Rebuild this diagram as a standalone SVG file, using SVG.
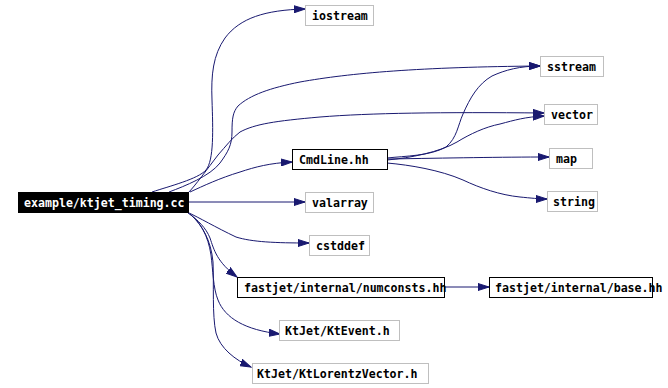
<svg xmlns="http://www.w3.org/2000/svg" width="668" height="388" viewBox="0 0 668 388">
<style>
.e{fill:none;stroke:#191970;stroke-width:1;marker-end:url(#arr)}
.n rect{fill:#fff;stroke:#bfbfbf;stroke-width:1}
.n.p rect{stroke:#000}
.n text{font-family:"DejaVu Sans Mono","Liberation Mono",monospace;font-weight:bold;font-size:11.6px;fill:#000}
#main rect{fill:#000;stroke:#000}
#main text{fill:#fff}
</style>
<defs>
<marker id="arr" viewBox="0 -4 12 8" refX="11" refY="0" markerWidth="12" markerHeight="8" markerUnits="userSpaceOnUse" orient="auto">
<path d="M0,-3.5L11,0L0,3.5z" fill="#191970" stroke="#191970" stroke-width="1"/>
</marker>
</defs>
<rect width="668" height="388" fill="#fff"/>
<g id="edges">
<path class="e" d="M152,192 C170,186 198,179 206,170 C214,160 213,130 212,100 C211,75 213,55 225,38 C240,18 265,10 305,9"/>
<path class="e" d="M169,192 C185,186 210,176 220,163 C228,152 232,145 232,132 C232,118 233,112 238,106 C250,95 270,88 300,82 C350,73 420,67 540,66"/>
<path class="e" d="M188,193 C195,186 208,168 218,155 C226,146 232,138 240,132 C255,124 275,121 320,117 C370,113 440,112 544,113"/>
<path class="e" d="M190,192 C203,186 220,178 240,172 C255,167 270,163 292,162"/>
<path class="e" d="M188,202 L305,202"/>
<path class="e" d="M187,212 C200,218 215,227 236,237 C252,242 275,243 309,243"/>
<path class="e" d="M188,213 C198,220 206,228 210,238 C214,250 217,262 237,277"/>
<path class="e" d="M190,214 C200,222 208,235 211,255 C213,270 213,288 218,300 C225,318 245,330 280,334"/>
<path class="e" d="M191,215 C202,225 211,240 213,262 C214,285 212,315 216,333 C220,348 235,360 251,367"/>
<path class="e" d="M387,158 C405,156 430,156 446,147 C457,138 458,125 463,114 C470,98 478,84 492,76 C505,70 520,66 540,66"/>
<path class="e" d="M387,160 C410,158 440,152 457,142 C470,134 485,127 500,124 C515,120 525,117 544,116"/>
<path class="e" d="M387,159 C450,158 500,157 549,157"/>
<path class="e" d="M387,163 C410,165 440,170 463,180 C480,188 500,195 520,197 C530,198 540,199 547,199"/>
<path class="e" d="M444,287 L489,287"/>
</g>
<g id="main" class="n"><rect x="18.5" y="192.5" width="170" height="20"/><text x="24" y="207">example/ktjet_timing.cc</text></g>
<g id="iostream" class="n"><rect x="305.5" y="5.5" width="68" height="20"/><text x="312" y="20">iostream</text></g>
<g id="sstream" class="n"><rect x="540.5" y="56.5" width="63" height="20"/><text x="547" y="71">sstream</text></g>
<g id="vector" class="n"><rect x="544.5" y="104.5" width="53" height="20"/><text x="551" y="119">vector</text></g>
<g id="cmdline" class="n p"><rect x="292.5" y="149.5" width="95" height="20"/><text x="299" y="164">CmdLine.hh</text></g>
<g id="map" class="n"><rect x="549.5" y="148.5" width="43" height="20"/><text x="556" y="163">map</text></g>
<g id="valarray" class="n"><rect x="305.5" y="192.5" width="68" height="20"/><text x="312" y="207">valarray</text></g>
<g id="string" class="n"><rect x="547.5" y="191.5" width="50" height="20"/><text x="553" y="206">string</text></g>
<g id="cstddef" class="n"><rect x="309.5" y="235.5" width="60" height="20"/><text x="316" y="250">cstddef</text></g>
<g id="numconsts" class="n p"><rect x="237.5" y="277.5" width="207" height="20"/><text x="244" y="292">fastjet/internal/numconsts.hh</text></g>
<g id="base" class="n p"><rect x="489.5" y="277.5" width="163" height="20"/><text x="495" y="292">fastjet/internal/base.hh</text></g>
<g id="ktevent" class="n"><rect x="279.5" y="320.5" width="120" height="20"/><text x="285" y="335">KtJet/KtEvent.h</text></g>
<g id="ktlorentz" class="n"><rect x="252.5" y="363.5" width="176" height="20"/><text x="257" y="378">KtJet/KtLorentzVector.h</text></g>
</svg>
